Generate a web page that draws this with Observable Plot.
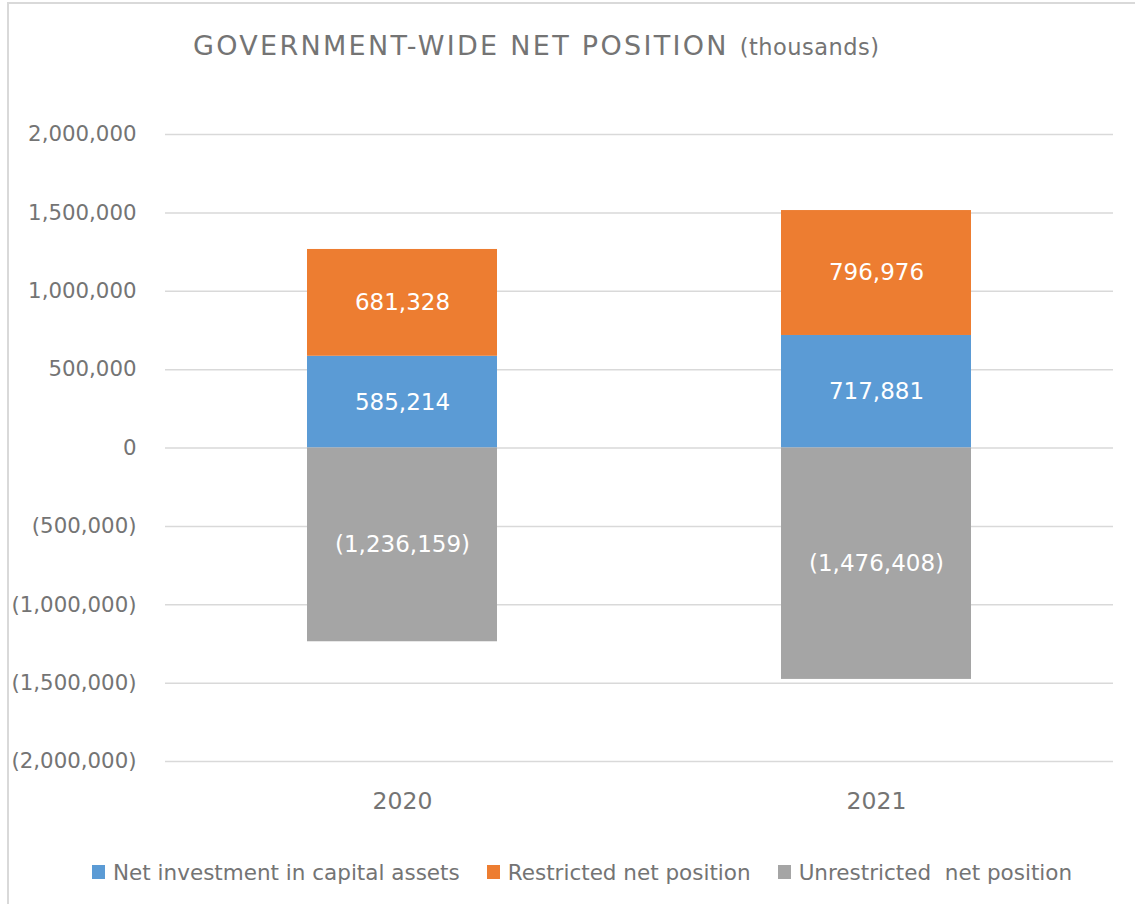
<!DOCTYPE html>
<html>
<head>
<meta charset="utf-8">
<script src="https://cdn.jsdelivr.net/npm/d3@7"></script>
<script src="https://cdn.jsdelivr.net/npm/@observablehq/plot@0.6"></script>
<style>
  html, body { margin: 0; padding: 0; background: #fff; }
  #wrap { position: relative; width: 1135px; height: 904px; overflow: hidden; font-family: "DejaVu Sans", sans-serif; }
  #frame { position: absolute; left: 7px; top: 2px; width: 1140px; height: 920px; border: 2px solid #d9d9d9; box-sizing: border-box; pointer-events: none; }
  #title { height: 100px; box-sizing: border-box; padding-left: 193px; padding-top: 28px; color: #747474; font-size: 27px; line-height: 36px; letter-spacing: 2.3px; white-space: pre; }
  #title .sub { font-size: 22.5px; letter-spacing: 0.5px; }
  #legend { height: 64px; display: flex; align-items: center; padding-left: 92px; box-sizing: border-box; color: #747474; font-size: 21.5px; white-space: pre; }
  #legend .item { display: flex; align-items: center; margin-right: 27px; }
  #legend .sw { width: 13px; height: 14px; margin-right: 8px; }
  #chart svg { display: block; }
</style>
</head>
<body>
<div id="wrap">
  <div id="frame"></div>
  <div id="title">GOVERNMENT-WIDE NET POSITION <span class="sub">(thousands)</span></div>
  <div id="chart"></div>
  <div id="legend"></div>
</div>
<script>
const years = ["2020", "2021"];
const seriesNames = ["Net investment in capital assets", "Restricted net position", "Unrestricted  net position"];
const seriesColors = ["#5B9BD5", "#ED7D31", "#A5A5A5"];
const netInvestment = [585214, 717881];
const restricted = [681328, 796976];
const unrestricted = [-1236159, -1476408];
const yTicks = [-2000000, -1500000, -1000000, -500000, 0, 500000, 1000000, 1500000, 2000000];

const valuesBySeries = [netInvestment, restricted, unrestricted];
const data = [];
seriesNames.forEach((s, i) => {
  years.forEach((yr, j) => data.push({year: yr, series: s, value: valuesBySeries[i][j]}));
});

const f = d3.format(",");
const fmt = v => v < 0 ? `(${f(-v)})` : f(v);

const plot = Plot.plot({
  width: 1135,
  height: 740,
  marginLeft: 165,
  marginRight: 22,
  marginTop: 34,
  marginBottom: 79,
  style: {fontFamily: "'DejaVu Sans', sans-serif", color: "#747474", background: "transparent"},
  x: {domain: years, paddingInner: 0.6, paddingOuter: 0.3, label: null},
  y: {domain: [-2000000, 2000000], label: null},
  color: {domain: seriesNames, range: seriesColors},
  marks: [
    Plot.ruleY(yTicks, {stroke: "#d9d9d9", strokeWidth: 1.5}),
    Plot.barY(data, Plot.stackY({x: "year", y: "value", z: "series", fill: "series", order: null})),
    Plot.text(data, Plot.stackY({x: "year", y: "value", z: "series", order: null, text: d => fmt(d.value), fill: "white", fontSize: 23})),
    Plot.axisY({ticks: yTicks, tickFormat: fmt, tickSize: 0, tickPadding: 29, fontSize: 21.3, fill: "#747474", label: null}),
    Plot.axisX({tickSize: 0, tickPadding: 31, fontSize: 23.5, fill: "#747474", label: null})
  ]
});
document.getElementById("chart").appendChild(plot);

const legend = document.getElementById("legend");
seriesNames.forEach((s, i) => {
  const it = document.createElement("div");
  it.className = "item";
  const sw = document.createElement("span");
  sw.className = "sw";
  sw.style.background = seriesColors[i];
  const tx = document.createElement("span");
  tx.textContent = s;
  it.appendChild(sw); it.appendChild(tx);
  legend.appendChild(it);
});
</script>
</body>
</html>
